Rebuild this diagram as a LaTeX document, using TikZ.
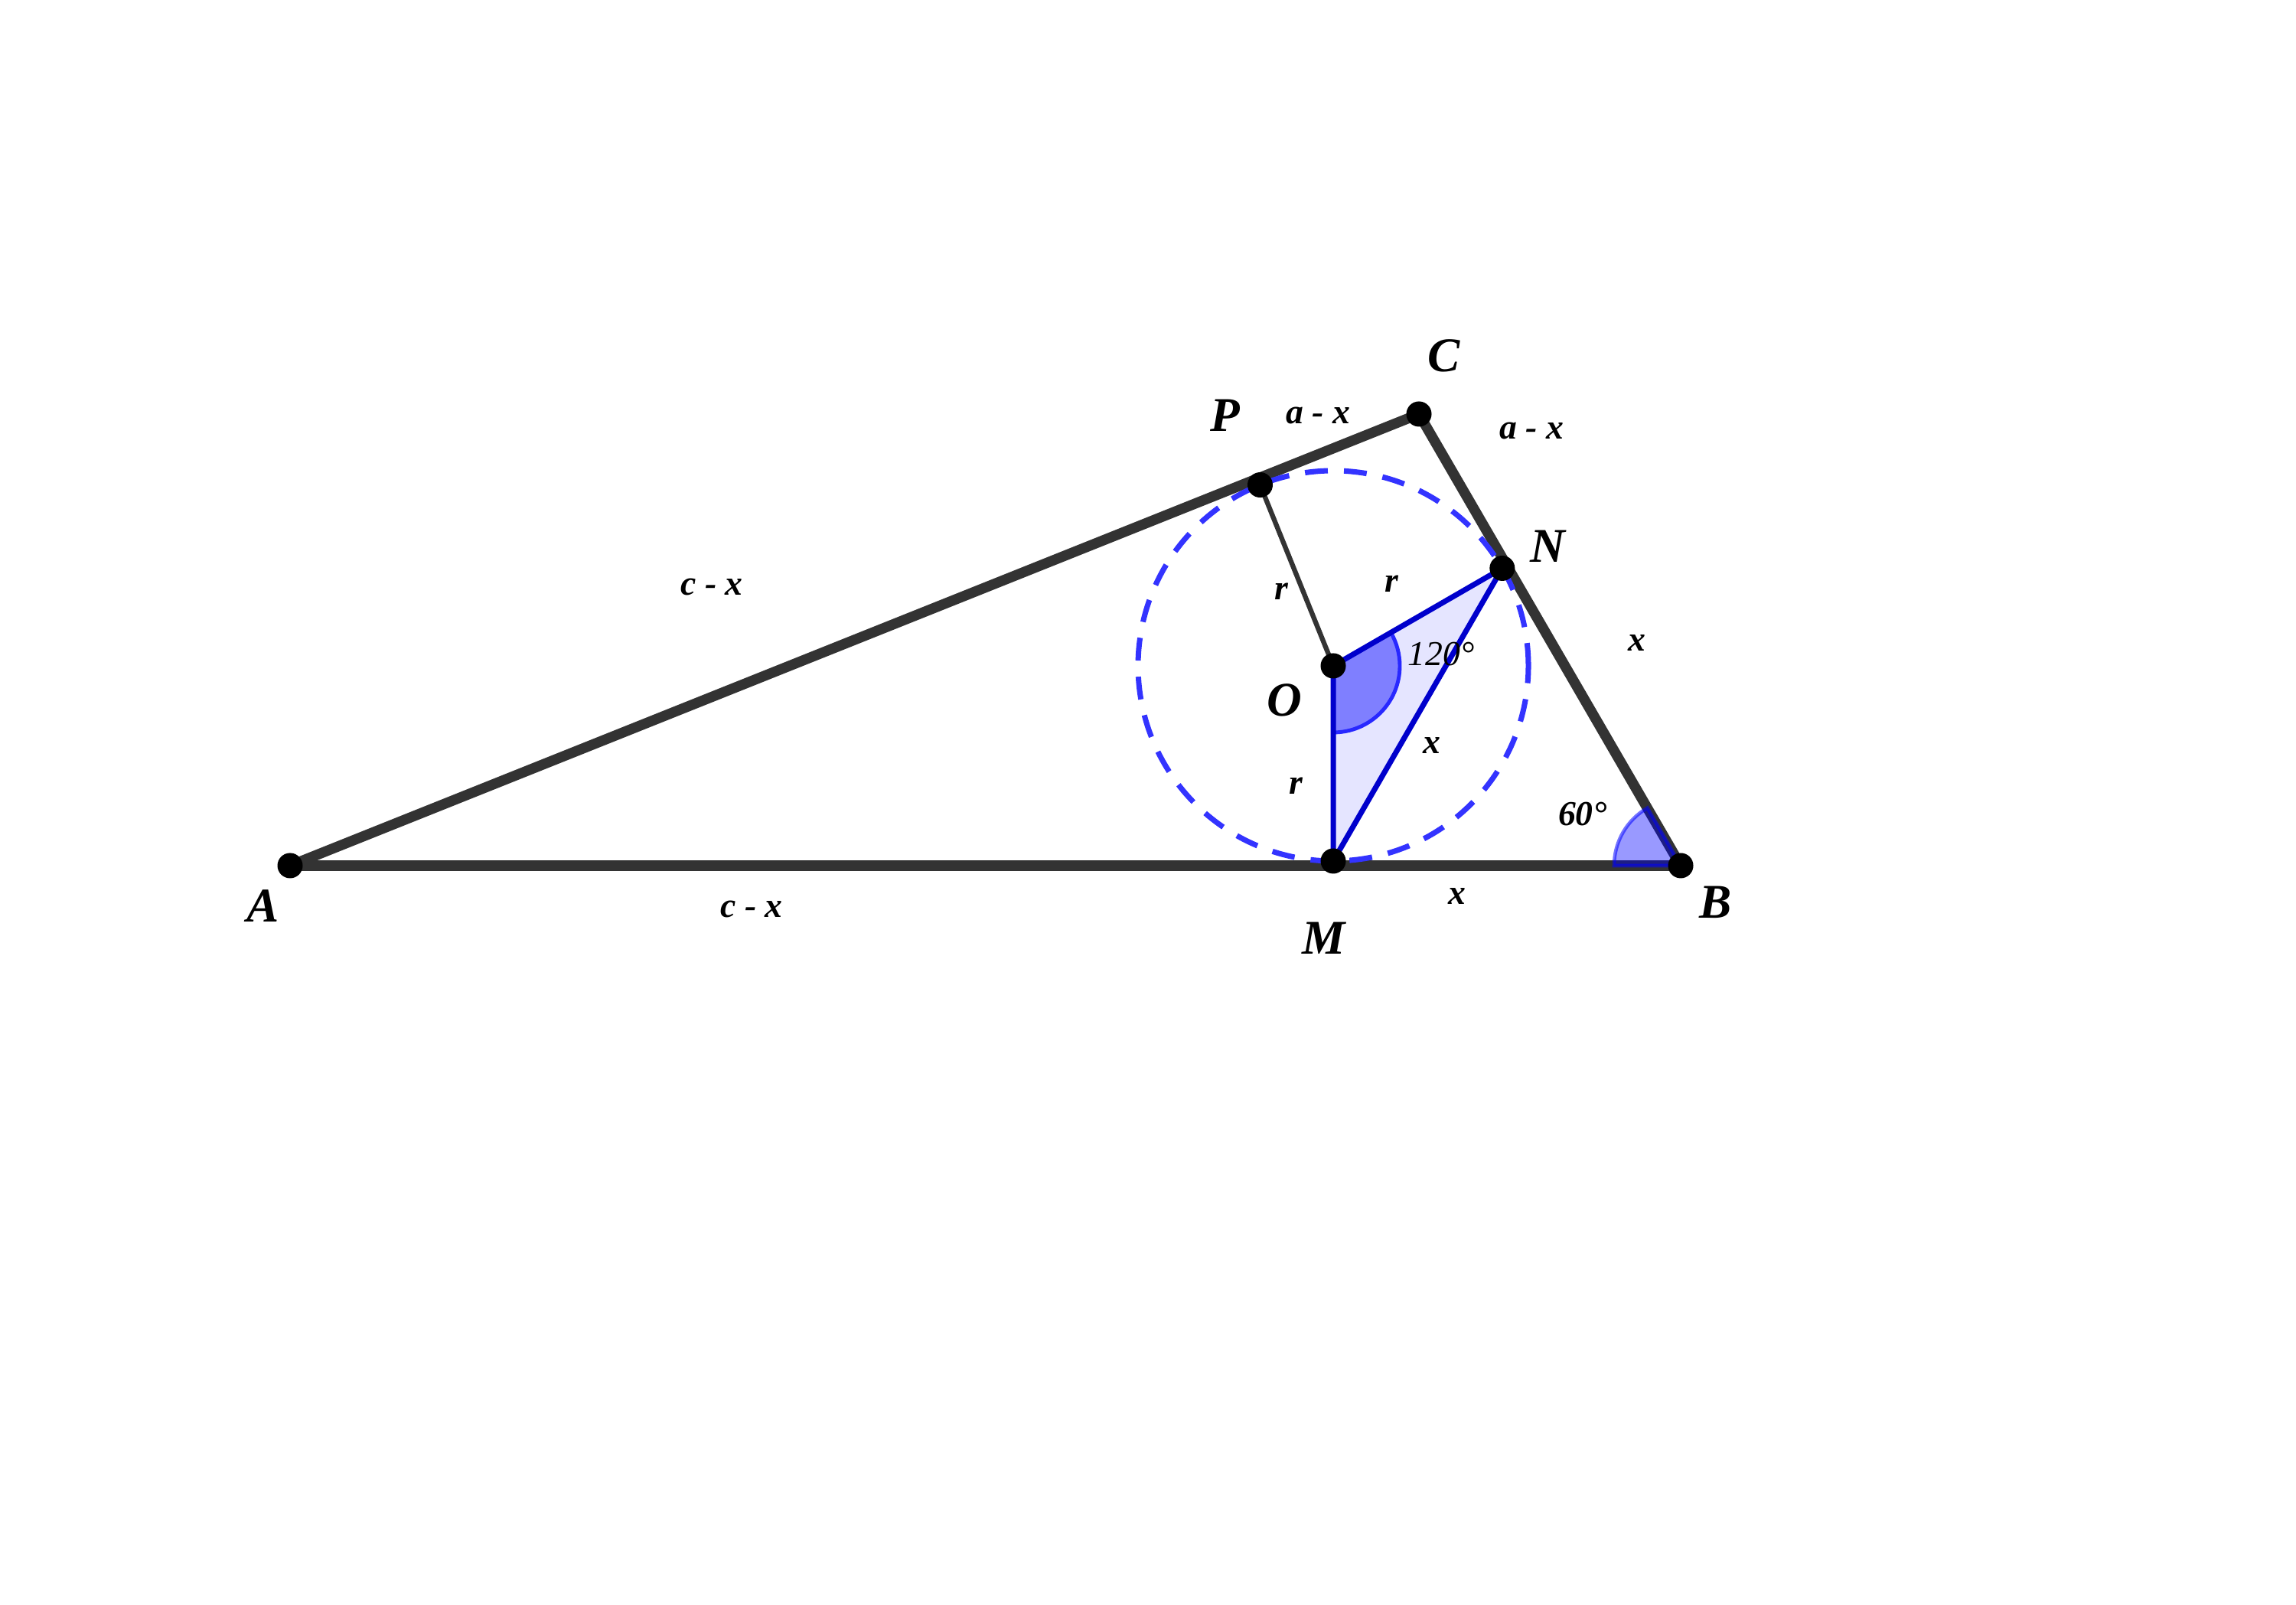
\documentclass[tikz,border=0pt]{standalone}
\usepackage{fontspec}
\usetikzlibrary{calc}
\setmainfont{Liberation Serif}
\definecolor{side}{RGB}{51,51,51}
\definecolor{bl}{RGB}{0,0,204}
\definecolor{circ}{RGB}{51,51,255}
\definecolor{trifill}{RGB}{229,229,255}
\definecolor{angO}{RGB}{127,127,255}
\definecolor{angOb}{RGB}{40,40,255}
\tikzset{
  sidel/.style={draw=side,line width=3.8pt},
  radl/.style={draw=side,line width=1.8pt},
  bluel/.style={draw=bl,line width=2pt},
  dot/.style={circle,fill=black,inner sep=0pt,minimum size=0.33cm},
  ptlab/.style={font=\fontsize{18}{21}\selectfont\bfseries\itshape},
  smlab/.style={font=\fontsize{13}{15}\selectfont\bfseries\itshape},
  smlabr/.style={font=\fontsize{13}{15}\selectfont\itshape},
}
\begin{document}
\begin{tikzpicture}
\useasboundingbox (0,0) rectangle (30,20.97);
\fill[white] (0,0) rectangle (30,20.97);
\coordinate (A) at (3.79,9.66);
\coordinate (B) at (21.96,9.66);
\coordinate (C) at (18.54,15.56);
\coordinate (O) at (17.42,12.27);
\coordinate (M) at ($(O)+(-90:2.55)$);
\coordinate (N) at ($(O)+(30:2.55)$);
\coordinate (P) at ($(O)+(112:2.55)$);
% triangle sides
\draw[sidel] (A) -- (B);
\draw[sidel] (A) -- (C);
\draw[sidel] (C) -- (B);
% radius OP
\draw[radl] (O) -- (P);
% blue triangle
\fill[trifill] (O) -- (M) -- (N) -- cycle;
\filldraw[fill=angO,draw=angOb,line width=1.4pt] (O) ++(-90:0.87) arc[start angle=-90,end angle=30,radius=0.87] -- (O) -- cycle;
\draw[bluel,line join=round] (N) -- (O) -- (M) -- (N);
% angle at B
\filldraw[fill=blue,fill opacity=0.4,draw=blue,draw opacity=0.55,line width=1.3pt] (B) -- ++(180:0.87) arc[start angle=180,end angle=120,radius=0.87] -- cycle;
% incircle
\draw[circ,line width=2pt,dash pattern=on 8.5pt off 6pt] (O) circle[radius=2.55];
% points
\foreach \p in {A,B,C,O,M,N,P} \node[dot] (d\p) at (\p) {};
% labels
\node[ptlab] (lC) at (18.87,16.32) {C};
\node[ptlab] (lP) at (16.01,15.54) {P};
\node[ptlab] (lN) at (20.22,13.83) {N};
\node[ptlab] (lO) at (16.78,11.82) {O};
\node[ptlab] (lA) at (3.44,9.13) {A};
\node[ptlab] (lB) at (22.42,9.18) {B};
\node[ptlab] (lM) at (17.30,8.71) {M};
\node[smlab] (l1) at (17.22,15.54) {a - x};
\node[smlab] (l2) at (20.01,15.34) {a - x};
\node[smlab] (l3) at (9.30,13.30) {c - x};
\node[smlab] (l4) at (9.82,9.09) {c - x};
\node[smlab] (l5) at (16.74,13.24) {r};
\node[smlab] (l6) at (18.18,13.34) {r};
\node[smlab] (l7) at (16.93,10.70) {r};
\node[smlab] (l8) at (21.39,12.57) {x};
\node[smlab] (l9) at (18.71,11.23) {x};
\node[smlab] (l10) at (19.04,9.26) {x};
\node[smlabr] (l11) at (18.83,12.42) {120°};
\node[smlab] (l12) at (20.68,10.33) {60°};
\end{tikzpicture}
\end{document}
